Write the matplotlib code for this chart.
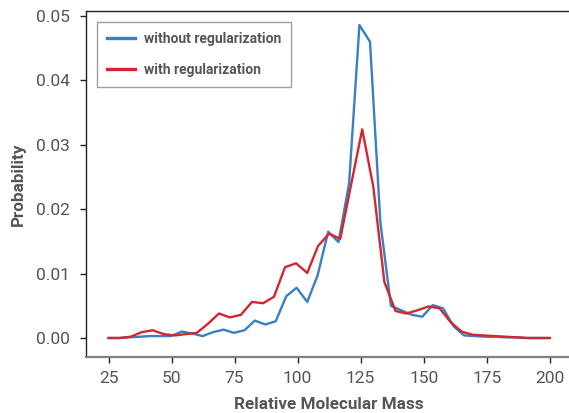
import matplotlib
matplotlib.use("Agg")
import matplotlib.pyplot as plt

# Relative molecular mass grid and probabilities
mass_without = [25.0, 29.1, 33.3, 37.4, 41.6, 45.7, 49.8, 54.0, 58.1, 62.3,
                66.4, 70.6, 74.7, 78.9, 83.0, 87.2, 91.3, 95.5, 99.6, 103.8,
                107.9, 112.1, 116.2, 120.4, 124.5, 128.7, 132.8, 137.0, 141.1,
                145.3, 149.4, 153.6, 157.7, 161.9, 166.0, 170.2, 174.3, 178.5,
                182.6, 186.8, 190.9, 195.1, 199.2]
prob_without = [0.0000, 0.0000, 0.0001, 0.0002, 0.0003, 0.0003, 0.0003, 0.0010,
                0.0007, 0.0003, 0.0009, 0.0013, 0.0008, 0.0012, 0.0027, 0.0021,
                0.0026, 0.0065, 0.0078, 0.0056, 0.0097, 0.0165, 0.0149, 0.0240,
                0.0486, 0.0460, 0.0180, 0.0050, 0.0043, 0.0036, 0.0033, 0.0051,
                0.0046, 0.0018, 0.0004, 0.0003, 0.0002, 0.0002, 0.0001, 0.0001,
                0.0000, 0.0000, 0.0000]

mass_with = [25.0, 29.4, 33.8, 38.1, 42.5, 46.9, 51.3, 55.6, 60.0, 64.4,
             68.8, 73.1, 77.5, 81.9, 86.3, 90.6, 95.0, 99.4, 103.8, 108.1,
             112.5, 116.9, 121.3, 125.6, 130.0, 134.4, 138.8, 143.1, 147.5,
             151.9, 156.3, 160.6, 165.0, 169.4, 173.8, 178.1, 182.5, 186.9,
             191.3, 195.6, 200.0]
prob_with = [0.0000, 0.0000, 0.0002, 0.0009, 0.0012, 0.0006, 0.0004, 0.0006,
             0.0008, 0.0022, 0.0038, 0.0032, 0.0036, 0.0056, 0.0054, 0.0064,
             0.0110, 0.0116, 0.0101, 0.0143, 0.0162, 0.0154, 0.0240, 0.0324,
             0.0235, 0.0087, 0.0042, 0.0038, 0.0043, 0.0049, 0.0046, 0.0025,
             0.0010, 0.0005, 0.0004, 0.0003, 0.0002, 0.0001, 0.0000, 0.0000,
             0.0000]

x_ticks = [25, 50, 75, 100, 125, 150, 175, 200]
y_ticks = [0.00, 0.01, 0.02, 0.03, 0.04, 0.05]

plt.rcParams["font.family"] = ["Roboto", "DejaVu Sans"]
text_grey = "#555555"

fig = plt.figure(figsize=(5.69, 4.13), dpi=100)
ax = fig.add_axes([0.1520, 0.1356, 0.853, 0.8378])

ax.plot(mass_without, prob_without, color="#3a7fc2", lw=1.7,
        label="without regularization")
ax.plot(mass_with, prob_with, color="#d42630", lw=1.7,
        label="with regularization")

ax.set_xlim(16.25, 208.75)
ax.set_ylim(-0.00295, 0.05078)
ax.set_xticks(x_ticks)
ax.set_yticks(y_ticks)
ax.set_yticklabels([f"{v:.2f}" for v in y_ticks])

ax.tick_params(axis="both", direction="out", length=4, width=1,
               color="#222222", labelcolor=text_grey, labelsize=12.5)
ax.tick_params(axis="y", pad=8)
ax.tick_params(axis="x", pad=6)

for side in ["top", "left", "right"]:
    ax.spines[side].set_color("#222222")
    ax.spines[side].set_linewidth(1.0)
ax.spines["bottom"].set_color("#808080")
ax.spines["bottom"].set_linewidth(1.6)

ax.set_xlabel("Relative Molecular Mass", fontsize=12.3, fontweight="bold",
              color=text_grey, labelpad=8)
ax.set_ylabel("Probability", fontsize=12.3, fontweight="bold",
              color=text_grey, labelpad=7)

leg = ax.legend(loc="upper left", bbox_to_anchor=(97 / 569, 1 - 22 / 413),
                bbox_transform=fig.transFigure, borderaxespad=0,
                fancybox=False, frameon=True,
                prop={"weight": "bold", "size": 10},
                handlelength=2.0, handletextpad=0.7, labelspacing=1.25,
                borderpad=0.7)
leg.get_frame().set_edgecolor("#888888")
leg.get_frame().set_linewidth(1.0)
for t in leg.get_texts():
    t.set_color(text_grey)
for h in leg.get_lines():
    h.set_linewidth(2.4)

fig.savefig("out.png", dpi=100)
